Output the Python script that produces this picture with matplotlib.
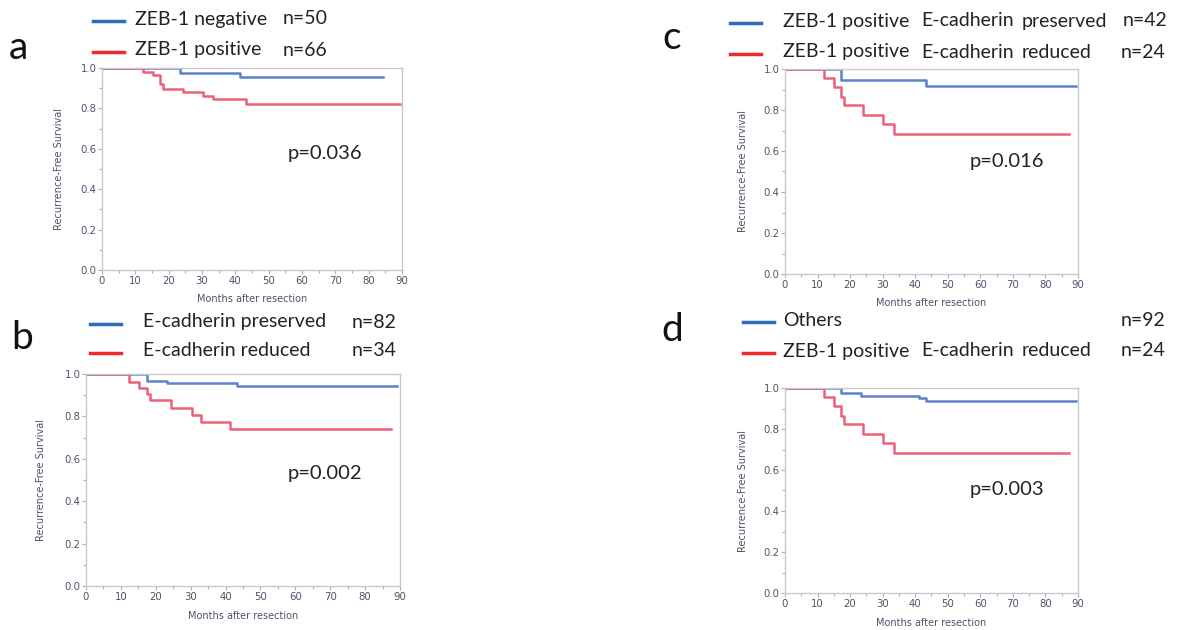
import matplotlib
matplotlib.use("Agg")
import matplotlib.pyplot as plt
from matplotlib.ticker import MultipleLocator

plt.rcParams['font.family'] = ['Lato', 'DejaVu Sans']

W, H = 1192, 630

# Kaplan-Meier step data (months, survival)
a_neg_t = [0, 23.3, 41.3, 84.3]
a_neg_s = [1.0, 0.975, 0.953, 0.953]
a_pos_t = [0, 12.3, 15.3, 17.3, 18.3, 24.3, 30.3, 33.3, 43.3, 89.3]
a_pos_s = [1.0, 0.981, 0.964, 0.921, 0.898, 0.880, 0.862, 0.847, 0.824, 0.824]

b_pres_t = [0, 17.4, 23.1, 43.4, 89.2]
b_pres_s = [1.0, 0.969, 0.956, 0.943, 0.943]
b_red_t = [0, 12.4, 15.3, 17.4, 18.3, 24.5, 30.3, 33.1, 41.3, 87.3]
b_red_s = [1.0, 0.962, 0.932, 0.906, 0.877, 0.841, 0.807, 0.774, 0.741, 0.741]

c_pres_t = [0, 17.2, 43.3, 89.4]
c_pres_s = [1.0, 0.946, 0.915, 0.915]
c_red_t = [0, 12.1, 15.1, 17.2, 18.1, 24.1, 30.2, 33.4, 87.3]
c_red_s = [1.0, 0.954, 0.910, 0.865, 0.824, 0.777, 0.731, 0.681, 0.681]

d_oth_t = [0, 17.2, 23.3, 41.1, 43.3, 89.4]
d_oth_s = [1.0, 0.976, 0.963, 0.951, 0.938, 0.938]
d_red_t = c_red_t
d_red_s = c_red_s

BLUE = "#4a74c4"
RED = "#e8506a"
LEG_BLUE = "#2a6ebb"
LEG_RED = "#ee2a2a"
TICK_COL = "#50506a"
LEG_SIZE = 14

fig = plt.figure(figsize=(W / 100, H / 100), dpi=100)


def px_axes(x0, y0, x1, y1):
    return fig.add_axes([x0 / W, 1 - y1 / H, (x1 - x0) / W, (y1 - y0) / H])


def ftext(x, y, s, **kw):
    fig.text(x / W, 1 - y / H, s, **kw)


def km_panel(box, curves, ylab_x, xlab_y, pval, pxy):
    ax = px_axes(*box)
    for t, s, c in curves:
        ax.step(t, s, where="post", color=c, lw=1.8, alpha=0.9)
    ax.set_xlim(0, 90)
    ax.set_ylim(0, 1.0)
    ax.xaxis.set_major_locator(MultipleLocator(10))
    ax.yaxis.set_major_locator(MultipleLocator(0.2))
    ax.yaxis.set_minor_locator(MultipleLocator(0.1))
    ax.xaxis.set_minor_locator(MultipleLocator(5))
    ax.set_yticklabels([f"{v:.1f}" for v in ax.get_yticks()])
    ax.tick_params(which="both", colors="#b0b0b0", labelcolor=TICK_COL,
                   labelsize=7.3, direction="out", length=3, width=0.8, pad=1)
    ax.tick_params(which="minor", length=2)
    for lab in ax.get_xticklabels() + ax.get_yticklabels():
        lab.set_fontfamily("DejaVu Sans")
    for sp in ax.spines.values():
        sp.set_color("#c8c8c8")
        sp.set_linewidth(1.0)
    x0, y0, x1, y1 = box
    ftext(ylab_x, (y0 + y1) / 2, "Recurrence-Free Survival", rotation=90,
          ha="center", va="center", fontsize=7, color=TICK_COL, family="DejaVu Sans")
    ftext((x0 + x1) / 2, xlab_y, "Months after resection", ha="center",
          va="center", fontsize=7, color=TICK_COL, family="DejaVu Sans")
    ftext(pxy[0], pxy[1], pval, ha="left", va="center", fontsize=14.5, color="#222222")
    return ax


def legend_row(x_line, y, text_parts, color):
    fig.add_artist(plt.Line2D([x_line / W, (x_line + 31) / W], [1 - y / H, 1 - y / H],
                              color=color, lw=2.5, transform=fig.transFigure))
    for x, s in text_parts:
        ftext(x, y - 2, s, ha="left", va="center", fontsize=LEG_SIZE, color="#222222")


# panel a
ftext(9, 48, "a", fontsize=28, va="center", color="#111111")
legend_row(93, 21, [(135, "ZEB-1 negative"), (283, "n=50")], LEG_BLUE)
legend_row(93, 52, [(135, "ZEB-1 positive"), (283, "n=66")], LEG_RED)
km_panel((102, 68, 402, 270), [(a_neg_t, a_neg_s, BLUE), (a_pos_t, a_pos_s, RED)],
         59, 299, "p=0.036", (288, 153))

# panel b
ftext(11, 338, "b", fontsize=28, va="center", color="#111111")
legend_row(90, 324, [(143, "E-cadherin preserved"), (352, "n=82")], LEG_BLUE)
legend_row(90, 353, [(143, "E-cadherin reduced"), (352, "n=34")], LEG_RED)
km_panel((86, 374, 400, 586), [(b_pres_t, b_pres_s, BLUE), (b_red_t, b_red_s, RED)],
         41, 616, "p=0.002", (288, 473))

# panel c
ftext(662, 38, "c", fontsize=28, va="center", color="#111111")
legend_row(730, 23, [(783, "ZEB-1 positive"), (921, "E-cadherin"), (1022, "preserved"),
                     (1123, "n=42")], LEG_BLUE)
legend_row(730, 54, [(783, "ZEB-1 positive"), (921, "E-cadherin"), (1022, "reduced"),
                     (1121, "n=24")], LEG_RED)
km_panel((785, 69, 1078, 274), [(c_pres_t, c_pres_s, BLUE), (c_red_t, c_red_s, RED)],
         743, 303, "p=0.016", (970, 161))

# panel d
ftext(661, 330, "d", fontsize=28, va="center", color="#111111")
legend_row(743, 322, [(783, "Others"), (1121, "n=92")], LEG_BLUE)
legend_row(743, 353, [(783, "ZEB-1 positive"), (921, "E-cadherin"), (1022, "reduced"),
                      (1121, "n=24")], LEG_RED)
km_panel((785, 388, 1078, 593), [(d_oth_t, d_oth_s, BLUE), (d_red_t, d_red_s, RED)],
         743, 623, "p=0.003", (970, 489))

fig.savefig("out.png", dpi=100, facecolor="white")
